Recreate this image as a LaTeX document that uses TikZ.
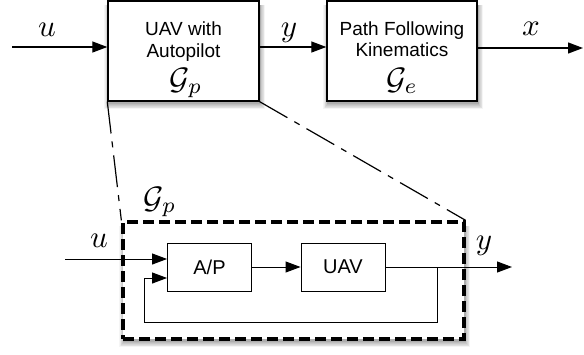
\documentclass[tikz,border=0pt]{standalone}
\usepackage{fontspec}
\setsansfont{Liberation Sans}
\usetikzlibrary{arrows.meta,fit}
% large math signal labels
\newcommand{\siglabel}[1]{\scalebox{3.1}{$#1$}}
% soft drop shadow under the box spanning (#1,#2) top-left to (#3,#4) bottom-right
\newcommand{\boxshadow}[4]{%
  \foreach \k/\gr in {7/4,6/8,5/12,4/16,3/21,2/26,1/32}{%
    \fill[black!\gr]
      ({#1+1-0.7*\k},{#2+4}) rectangle ({#3+1+0.7*\k},{#4+2+0.9*\k});
  }%
}
\begin{document}
\begin{tikzpicture}[x=1pt,y=-1pt,
  blockbox/.style={draw, line width=1.4pt, fill=white, inner sep=0pt},
  innerbox/.style={draw, line width=0.9pt, fill=white, minimum width=84pt, minimum height=48pt, inner sep=0pt,
                   font=\sffamily\fontsize{20}{22}\selectfont},
  sig/.style={line width=1.3pt, -{Triangle[length=15pt,width=11pt]}},
  isig/.style={line width=1pt, -{Triangle[length=15pt,width=11pt]}},
  txt/.style={font=\sffamily\fontsize{19}{20}\selectfont, anchor=base, inner sep=0pt},
  mathlbl/.style={anchor=base, inner sep=0pt},
  zoomline/.style={line width=1.2pt, dash pattern=on 32pt off 8pt on 6pt off 8pt}]

\useasboundingbox (0,0) rectangle (584,354);

% shadows first, boxes on top
\boxshadow{108}{1}{259}{101}
\boxshadow{327}{1}{477}{101}
\boxshadow{123}{222}{464}{339}

% box corners
\coordinate (gpsw) at (108,101);  \coordinate (gpne) at (259,1);
\coordinate (gesw) at (327,101);  \coordinate (gene) at (477,1);
\coordinate (encsw) at (123,339); \coordinate (encne) at (464,222);

% top level blocks
\node[blockbox, fit=(gpsw)(gpne)] (gp) {};
\node[blockbox, fit=(gesw)(gene)] (ge) {};

\node[txt] (gpa) at (183.5,35.5) {UAV with};
\node[txt] (gpb) at (183.5,57) {Autopilot};
\node[mathlbl] (gpc) at (186,89) {\siglabel{\mathcal{G}_p}};

\node[txt] (gea) at (402,35) {Path Following};
\node[txt] (geb) at (402,56.5) {Kinematics};
\node[mathlbl] (gec) at (402,89) {\siglabel{\mathcal{G}_e}};

% top level signals
\coordinate (uin) at (12,47);
\coordinate (xout) at (583,48);
\draw[sig] (uin) -- (gp.west |- uin);
\draw[sig] (gp.east |- uin) -- (ge.west |- uin);
\draw[sig] (ge.east |- xout) -- (xout);

\node[mathlbl] (lu) at (47,36) {\siglabel{u}};
\node[mathlbl] (ly) at (289,36) {\siglabel{y}};
\node[mathlbl] (lx) at (531,35) {\siglabel{x}};

% expanded view of the plant
\node[draw, line width=3.3pt, dash pattern=on 11pt off 5pt, fill=white, inner sep=0pt,
      fit=(encsw)(encne)] (enc) {};

\draw[zoomline] (gp.south west) -- (enc.north west);
\draw[zoomline] (gp.south east) -- (enc.north east);

\node[mathlbl] (lgp) at (160,208) {\siglabel{\mathcal{G}_p}};

\node[innerbox] (ap) at (209.5,267) {A/P};
\node[innerbox] (uav) at (343,267) {UAV};

\coordinate (uin2) at (65,259);
\coordinate (yout) at (512,267);
\coordinate (fbtap) at (437,267);
\coordinate (fbl) at (144,322);
\coordinate (fbend) at (0,278);

\draw[isig] (ap) -- (uav);
\draw[isig] (uin2) -- (ap.west |- uin2);
\draw[isig] (uav.east) -- (yout);
\draw[isig] (fbtap) |- (fbl) |- (ap.west |- fbend);

\node[mathlbl] (lu2) at (99,247) {\siglabel{u}};
\node[mathlbl] (ly2) at (484,249) {\siglabel{y}};
\end{tikzpicture}
\end{document}
